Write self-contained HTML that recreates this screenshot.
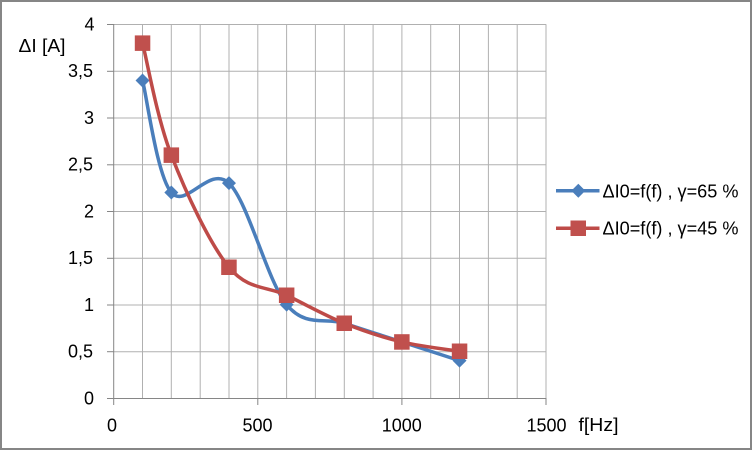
<!DOCTYPE html>
<html><head><meta charset="utf-8"><style>
html,body{margin:0;padding:0;background:#fff;}
svg{display:block;}
text{font-family:"Liberation Sans",sans-serif;fill:#000;}
</style></head><body>
<svg width="753" height="451" viewBox="0 0 753 451" xmlns="http://www.w3.org/2000/svg">
<rect x="1" y="1" width="750" height="448" fill="#fff" stroke="#868686" stroke-width="2"/>
<g stroke="#b0b0b0" stroke-width="1" fill="none">
<line x1="142.5" y1="24.3" x2="142.5" y2="398"/>
<line x1="171.3" y1="24.3" x2="171.3" y2="398"/>
<line x1="200.2" y1="24.3" x2="200.2" y2="398"/>
<line x1="229" y1="24.3" x2="229" y2="398"/>
<line x1="257.8" y1="24.3" x2="257.8" y2="398"/>
<line x1="286.6" y1="24.3" x2="286.6" y2="398"/>
<line x1="315.4" y1="24.3" x2="315.4" y2="398"/>
<line x1="344.3" y1="24.3" x2="344.3" y2="398"/>
<line x1="373.1" y1="24.3" x2="373.1" y2="398"/>
<line x1="401.9" y1="24.3" x2="401.9" y2="398"/>
<line x1="430.7" y1="24.3" x2="430.7" y2="398"/>
<line x1="459.5" y1="24.3" x2="459.5" y2="398"/>
<line x1="488.4" y1="24.3" x2="488.4" y2="398"/>
<line x1="517.2" y1="24.3" x2="517.2" y2="398"/>
<line x1="546" y1="24.3" x2="546" y2="398"/>
<line x1="113.7" y1="24.5" x2="546" y2="24.5"/>
<line x1="113.7" y1="71.3" x2="546" y2="71.3"/>
<line x1="113.7" y1="118" x2="546" y2="118"/>
<line x1="113.7" y1="164.8" x2="546" y2="164.8"/>
<line x1="113.7" y1="211.5" x2="546" y2="211.5"/>
<line x1="113.7" y1="258.3" x2="546" y2="258.3"/>
<line x1="113.7" y1="305" x2="546" y2="305"/>
<line x1="113.7" y1="351.7" x2="546" y2="351.7"/>
</g>
<g stroke="#868686" stroke-width="1" fill="none">
<line x1="113.7" y1="24" x2="113.7" y2="398.5"/>
<line x1="107" y1="398.5" x2="546" y2="398.5"/>
<line x1="107" y1="24.5" x2="113.7" y2="24.5"/>
<line x1="107" y1="71.3" x2="113.7" y2="71.3"/>
<line x1="107" y1="118" x2="113.7" y2="118"/>
<line x1="107" y1="164.8" x2="113.7" y2="164.8"/>
<line x1="107" y1="211.5" x2="113.7" y2="211.5"/>
<line x1="107" y1="258.3" x2="113.7" y2="258.3"/>
<line x1="107" y1="305" x2="113.7" y2="305"/>
<line x1="107" y1="351.7" x2="113.7" y2="351.7"/>
<line x1="113.7" y1="398" x2="113.7" y2="405"/>
<line x1="257.8" y1="398" x2="257.8" y2="405"/>
<line x1="401.9" y1="398" x2="401.9" y2="405"/>
<line x1="546" y1="398" x2="546" y2="405"/>
</g>
<g font-size="18" text-anchor="end">
<text x="94.5" y="30.5">4</text>
<text x="93" y="77">3,5</text>
<text x="94" y="124">3</text>
<text x="93" y="170.5">2,5</text>
<text x="94" y="217.5">2</text>
<text x="93" y="264">1,5</text>
<text x="94" y="311">1</text>
<text x="93" y="357.5">0,5</text>
<text x="94" y="404.5">0</text>
</g>
<g font-size="18" text-anchor="middle">
<text x="112" y="431.5">0</text>
<text x="257.5" y="431.5">500</text>
<text x="401.8" y="431.5">1000</text>
<text x="546.5" y="431.5">1500</text>
</g>
<text x="578.5" y="431" font-size="18" textLength="40" lengthAdjust="spacingAndGlyphs">f[Hz]</text>
<text x="18.5" y="52" font-size="18" textLength="47" lengthAdjust="spacingAndGlyphs">ΔI [A]</text>
<path d="M142.52,80.44 C147.32,99.12 156.93,175.40 171.34,192.52 C185.75,209.64 209.77,164.50 228.98,183.18 C248.19,201.86 267.41,281.25 286.62,304.6 C305.83,327.95 325.05,317.05 344.26,323.28 C363.47,329.51 382.69,335.73 401.9,341.96 C421.11,348.19 449.93,357.53 459.54,360.64" fill="none" stroke="#4a7ebb" stroke-width="3.5" stroke-linecap="round" stroke-linejoin="round"/>
<g fill="#4a7ebb">
<polygon points="142.52,73.44 149.52,80.44 142.52,87.44 135.52,80.44"/>
<polygon points="171.34,185.52 178.34,192.52 171.34,199.52 164.34,192.52"/>
<polygon points="228.98,176.18 235.98,183.18 228.98,190.18 221.98,183.18"/>
<polygon points="286.62,297.6 293.62,304.6 286.62,311.6 279.62,304.6"/>
<polygon points="344.26,316.28 351.26,323.28 344.26,330.28 337.26,323.28"/>
<polygon points="401.9,334.96 408.9,341.96 401.9,348.96 394.9,341.96"/>
<polygon points="459.54,353.64 466.54,360.64 459.54,367.64 452.54,360.64"/>
</g>
<path d="M142.52,43.08 C147.32,61.76 156.93,117.80 171.34,155.16 C185.75,192.52 209.77,243.89 228.98,267.24 C248.19,290.59 267.41,285.92 286.62,295.26 C305.83,304.6 325.05,315.50 344.26,323.28 C363.47,331.06 382.69,337.29 401.9,341.96 C421.11,346.63 449.93,349.74 459.54,351.3" fill="none" stroke="#be4b48" stroke-width="3.5" stroke-linecap="round" stroke-linejoin="round"/>
<g fill="#c0504d">
<rect x="134.8" y="35.4" width="15.5" height="15.5"/>
<rect x="163.6" y="147.4" width="15.5" height="15.5"/>
<rect x="221.2" y="259.5" width="15.5" height="15.5"/>
<rect x="278.9" y="287.5" width="15.5" height="15.5"/>
<rect x="336.5" y="315.5" width="15.5" height="15.5"/>
<rect x="394.1" y="334.2" width="15.5" height="15.5"/>
<rect x="451.8" y="343.5" width="15.5" height="15.5"/>
</g>
<line x1="556" y1="190.7" x2="599.5" y2="190.7" stroke="#4a7ebb" stroke-width="3.5"/>
<polygon points="578.3,183.7 585.3,190.7 578.3,197.7 571.3,190.7" fill="#4a7ebb"/>
<line x1="556" y1="228.3" x2="599.5" y2="228.3" stroke="#be4b48" stroke-width="3.5"/>
<rect x="570.5" y="220.5" width="15.5" height="15.5" fill="#c0504d"/>
<text x="602.5" y="197.3" font-size="18" textLength="136" lengthAdjust="spacingAndGlyphs">ΔI0=f(f) , γ=65 %</text>
<text x="602.5" y="234.5" font-size="18" textLength="136" lengthAdjust="spacingAndGlyphs">ΔI0=f(f) , γ=45 %</text>
</svg>
</body></html>
